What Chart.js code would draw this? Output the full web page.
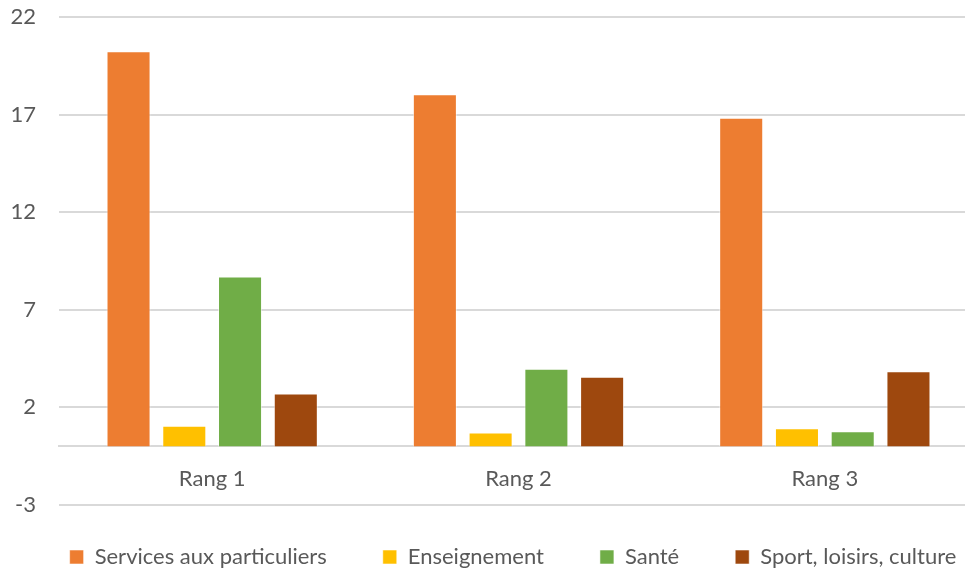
<!DOCTYPE html>
<html>
<head>
<meta charset="utf-8">
<script src="https://cdn.jsdelivr.net/npm/chart.js@4"></script>
<style>
  html, body { margin: 0; padding: 0; background: #fff; overflow: hidden; }
  #wrap { width: 1028px; height: 571px; }
</style>
</head>
<body>
<div id="wrap"><canvas id="chart" width="1028" height="571"></canvas></div>
<script>
// categories and series
const categories = ['Rang 1', 'Rang 2', 'Rang 3'];
const services = [20.24, 18.04, 16.84];
const enseignement = [1.06, 0.71, 0.93];
const sante = [8.70, 3.98, 0.78];
const sport = [2.71, 3.57, 3.85];
const seriesNames = ['Services aux particuliers', 'Enseignement', 'Santé', 'Sport, loisirs, culture'];
const yTicks = [-3, 2, 7, 12, 17, 22];

const colors = ['#ED7D31', '#FFC000', '#70AD47', '#9E480E'];
const textColor = '#595959';
const gridColor = '#D9D9D9';
const FONT = { family: 'Lato', size: 22 };
const LEGEND_PAD = 56;

const ds = (i, data) => ({
    label: seriesNames[i],
    data: data,
    backgroundColor: colors[i],
    borderColor: 'rgba(255,255,255,0.55)',
    borderWidth: 1,
    categoryPercentage: 0.728,
    barPercentage: 0.79
});

// the plot runs past the right edge of the picture (it was cropped),
// so put the legend row back where it sits in the picture
const legendShift = {
    id: 'legendShift',
    afterLayout(chart) {
        const lg = chart.legend;
        const dx = 513 - (lg.left + lg.right) / 2;
        const dy = 557 - (lg.top + LEGEND_PAD + FONT.size / 2);
        lg.left += dx; lg.right += dx;
        lg.top += dy;
        lg.bottom = chart.height;
    }
};

new Chart(document.getElementById('chart'), {
    type: 'bar',
    data: {
        labels: categories,
        datasets: [ds(0, services), ds(1, enseignement), ds(2, sante), ds(3, sport)]
    },
    options: {
        responsive: false,
        animation: false,
        layout: { padding: { left: 0, right: 0, top: 17, bottom: 0 } },
        scales: {
            x: {
                position: { y: 0 },
                grid: { display: false },
                border: { display: true, color: gridColor, width: 2 },
                ticks: { color: textColor, font: FONT, padding: 11 },
                afterFit: (scale) => { scale.height = 0; }
            },
            y: {
                min: yTicks[0],
                max: yTicks[yTicks.length - 1],
                ticks: { stepSize: 5, color: textColor, font: FONT, padding: 23 },
                grid: { color: gridColor, lineWidth: 2, drawTicks: false },
                border: { display: false },
                afterFit: (scale) => {
                    scale.width = 59;
                    scale.paddingTop = 0;
                    scale.paddingBottom = 0;
                }
            },
            // empty strip on the right: the cropped part of the picture
            rightStrip: {
                type: 'linear',
                position: 'right',
                display: true,
                ticks: { display: false },
                grid: { display: false },
                border: { display: false },
                afterFit: (scale) => { scale.width = 50; }
            }
        },
        plugins: {
            legend: {
                position: 'bottom',
                maxHeight: 66,
                labels: {
                    color: textColor,
                    font: FONT,
                    boxWidth: 14,
                    boxHeight: 14,
                    padding: LEGEND_PAD
                }
            },
            tooltip: { enabled: false }
        }
    },
    plugins: [legendShift]
});
</script>
</body>
</html>
